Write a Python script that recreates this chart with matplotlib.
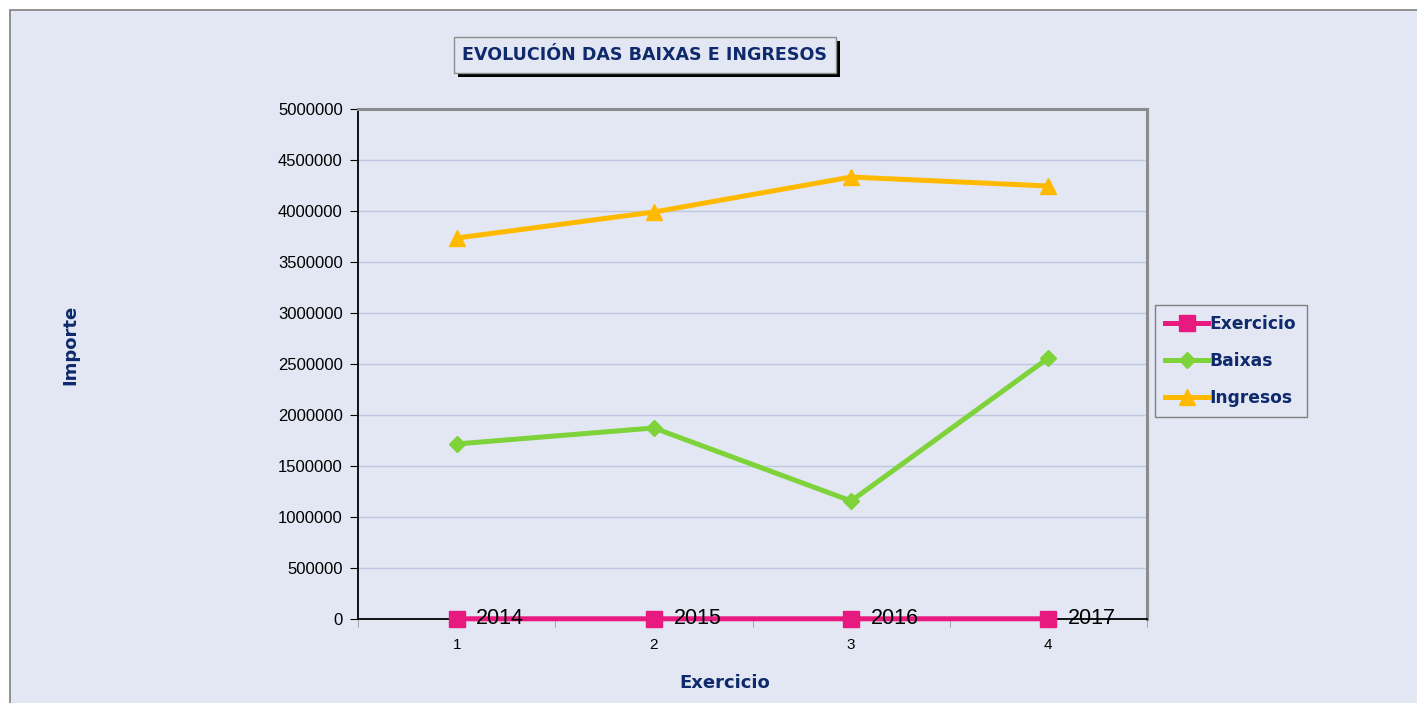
import matplotlib.pyplot as plt
import matplotlib.patheffects as pe
from matplotlib.patches import Rectangle

# --- datos ---
posicions = [1, 2, 3, 4]
anos = ["2014", "2015", "2016", "2017"]
exercicio = [2014, 2015, 2016, 2017]
baixas = [1716000, 1873000, 1157000, 2559000]
ingresos = [3735000, 3990000, 4333000, 4245000]
yticks = [0, 500000, 1000000, 1500000, 2000000, 2500000, 3000000, 3500000, 4000000, 4500000, 5000000]

fondo = '#E3E7F3'
navy = '#0E2A6C'

fig = plt.figure(figsize=(14.17, 7.03), dpi=100)
fig.patch.set_facecolor('white')
# marco da area do grafico
fig.patches.append(Rectangle((10 / 1417, -0.01), 1.02, 1 - 10 / 703 + 0.01,
                             transform=fig.transFigure, facecolor=fondo,
                             edgecolor='#808080', linewidth=1.2, zorder=-10))

ax = fig.add_axes([358 / 1417, 84 / 703, 789 / 1417, 510 / 703])
ax.set_facecolor(fondo)

ax.plot(posicions, exercicio, color='#E8197F', linewidth=3.6, marker='s',
        markersize=11, label='Exercicio', zorder=3, clip_on=False)
ax.plot(posicions, baixas, color='#7ED23A', linewidth=3.6, marker='D',
        markersize=8, label='Baixas', zorder=3)
ax.plot(posicions, ingresos, color='#FFBA00', linewidth=3.6, marker='^',
        markersize=11, label='Ingresos', zorder=3)

# etiquetas de datos
for x, t in zip(posicions, anos):
    ax.text(x + 0.1, 0, t, va='center', ha='left', fontsize=15.5,
            family=['Liberation Sans Narrow', 'Liberation Sans', 'DejaVu Sans'],
            color='black', zorder=4)

ax.set_xlim(0.5, 4.5)
ax.set_ylim(0, 5000000)
ax.set_yticks(yticks)
ax.set_yticklabels([str(v) for v in yticks], fontsize=12, family='Liberation Sans')
ax.set_xticks(posicions)
ax.set_xticklabels([str(p) for p in posicions], fontsize=11,
                   family=['Liberation Sans Narrow', 'Liberation Sans'])
ax.set_xticks([0.5, 1.5, 2.5, 3.5, 4.5], minor=True)
ax.tick_params(axis='x', which='major', length=0, pad=14)
ax.tick_params(axis='x', which='minor', length=6, direction='out', color='#999999')
ax.tick_params(axis='y', length=6, direction='out', pad=5)

ax.grid(axis='y', color='#BFC7E0', linewidth=1)
ax.set_axisbelow(True)
for s in ['top', 'right']:
    ax.spines[s].set_color('#8C8C8C')
    ax.spines[s].set_linewidth(2.2)
ax.spines['left'].set_color('black')
ax.spines['bottom'].set_color('black')
ax.spines['left'].set_linewidth(1.3)
ax.spines['bottom'].set_linewidth(1.3)

# titulo con caixa e sombra
tit = fig.text(645 / 1417, 1 - 55 / 703, 'EVOLUCIÓN DAS BAIXAS E INGRESOS',
               ha='center', va='center', fontsize=12.6, fontweight='bold', color=navy,
               bbox=dict(boxstyle='square,pad=0.5', facecolor=fondo,
                         edgecolor='#8C8C8C', linewidth=1))
tit.get_bbox_patch().set_path_effects([
    pe.SimplePatchShadow(offset=(3, -3), shadow_rgbFace='black', alpha=1),
    pe.Normal()])

fig.text(70 / 1417, 1 - 345 / 703, 'Importe', rotation=90, ha='center', va='center',
         fontsize=13, fontweight='bold', color=navy)
fig.text(725 / 1417, 1 - 683 / 703, 'Exercicio', ha='center', va='center',
         fontsize=13, fontweight='bold', color=navy)

leg = ax.legend(loc='center left', bbox_to_anchor=(1155 / 1417, 1 - 361 / 703),
                bbox_transform=fig.transFigure, frameon=True, fancybox=False,
                facecolor=fondo, edgecolor='#808080', fontsize=12.3,
                handlelength=2.5, handletextpad=0.1, labelspacing=1.1,
                borderpad=0.6, borderaxespad=0)
leg.get_frame().set_alpha(1)
for t in leg.get_texts():
    t.set_color(navy)
    t.set_fontweight('bold')

fig.savefig('out.png', dpi=100, facecolor=fig.get_facecolor())
